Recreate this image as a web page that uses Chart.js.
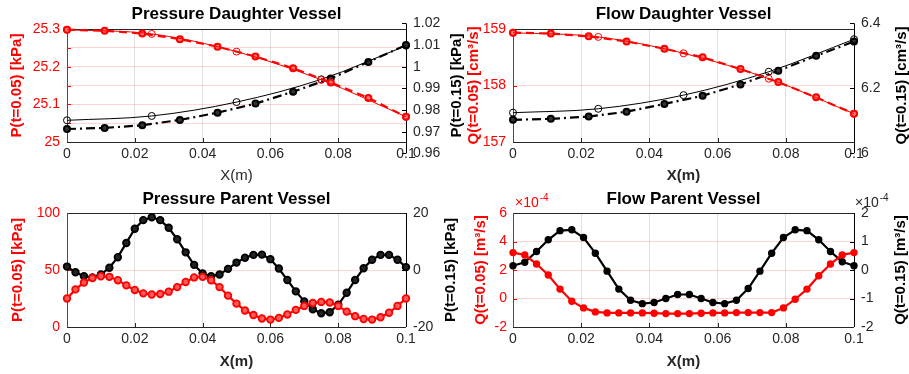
<!DOCTYPE html>
<html>
<head>
<meta charset="utf-8">
<script src="https://cdn.jsdelivr.net/npm/chart.js@4.4.1/dist/chart.umd.min.js"></script>
<style>
  html, body { margin: 0; padding: 0; background: #fff; }
  #wrap { position: relative; width: 909px; height: 374px; overflow: hidden; }
  canvas { position: absolute; }
</style>
</head>
<body>
<div id="wrap">
  <canvas id="cA" width="470" height="185" style="left:0;top:0"></canvas>
  <canvas id="cB" width="469" height="185" style="left:440px;top:0"></canvas>
  <canvas id="cC" width="470" height="189" style="left:0;top:185px"></canvas>
  <canvas id="cD" width="469" height="189" style="left:440px;top:185px"></canvas>
</div>
<script>
const FONT = "'Liberation Sans', Arial, Helvetica, sans-serif";
const RED  = '#FF0000';
const BLK  = '#000000';
const AXC  = '#262626';
const PINK = 'rgba(255,0,0,0.16)';
const GRID = 'rgba(0,0,0,0.12)';

// x positions / ticks
const xTicks = [0, 0.02, 0.04, 0.06, 0.08, 0.1];
const x5  = [0, 0.025, 0.05, 0.075, 0.1];
const x10 = [0, 0.0111, 0.0222, 0.0333, 0.0444, 0.0556, 0.0667, 0.0778, 0.0889, 0.1];
const x41 = [0, 0.0025, 0.005, 0.0075, 0.01, 0.0125, 0.015, 0.0175, 0.02, 0.0225, 0.025,
             0.0275, 0.03, 0.0325, 0.035, 0.0375, 0.04, 0.0425, 0.045, 0.0475, 0.05,
             0.0525, 0.055, 0.0575, 0.06, 0.0625, 0.065, 0.0675, 0.07, 0.0725, 0.075,
             0.0775, 0.08, 0.0825, 0.085, 0.0875, 0.09, 0.0925, 0.095, 0.0975, 0.1];
const x30 = [0, 0.00345, 0.0069, 0.01034, 0.01379, 0.01724, 0.02069, 0.02414, 0.02759, 0.03103,
             0.03448, 0.03793, 0.04138, 0.04483, 0.04828, 0.05172, 0.05517, 0.05862, 0.06207, 0.06552,
             0.06897, 0.07241, 0.07586, 0.07931, 0.08276, 0.08621, 0.08966, 0.0931, 0.09655, 0.1];

// Pressure Daughter Vessel
const pdLeftTicks  = [25, 25.05, 25.1, 25.15, 25.2, 25.25, 25.3];
const pdRightTicks = [0.96, 0.97, 0.98, 0.99, 1, 1.01, 1.02];
const pdRightRange = [0.9653, 1.0174];
const pdRed5   = [25.298, 25.287, 25.240, 25.165, 25.067];
const pdRed10  = [25.298, 25.2955, 25.288, 25.273, 25.253, 25.227, 25.196, 25.158, 25.117, 25.067];
const pdBlk5   = [0.9753, 0.9773, 0.9837, 0.9942, 1.0097];
const pdBlk10  = [0.9713, 0.9718, 0.9730, 0.9755, 0.9788, 0.9830, 0.9885, 0.9946, 1.0022, 1.0100];

// Flow Daughter Vessel
const fdLeftTicks  = [157, 158, 159];
const fdRightTicks = [6, 6.2, 6.4];
const fdRightRange = [6.0348, 6.3825];
const fdRed5   = [158.935, 158.86, 158.57, 158.12, 157.5];
const fdRed10  = [158.935, 158.92, 158.87, 158.78, 158.65, 158.5, 158.29, 158.06, 157.79, 157.5];
const fdBlk5   = [6.125, 6.137, 6.179, 6.251, 6.351];
const fdBlk10  = [6.103, 6.106, 6.113, 6.128, 6.152, 6.177, 6.212, 6.254, 6.300, 6.344];

// Pressure Parent Vessel
const ppLeftTicks  = [0, 50, 100];
const ppRightTicks = [-20, 0, 20];
const ppRed = [25, 33, 39, 43, 44.5, 44, 41, 36.5, 32.5, 29.5, 28.5,
               29, 31, 35, 39.5, 43.5, 44, 41, 35, 27.5, 20.5,
               14.5, 10.5, 7.5, 6.5, 8, 11, 15, 18.5, 21, 22,
               21.5, 18.5, 13.5, 9.5, 7, 6.5, 8.5, 12.5, 18.5, 25];
const ppBlk = [1.2, -0.8, -2.2, -2.6, -1.6, 0.8, 4.5, 9.5, 14.5, 17.5, 18.5,
               17.5, 14.8, 10.8, 6.2, 1.8, -1.2, -2.2, -1.6, 0.4, 2.6,
               4.3, 5.3, 5.4, 3.8, 0.5, -3.5, -7.5, -11, -13.8, -15.2,
               -14.8, -12.2, -8, -3.5, 0.6, 3.6, 5.3, 5.3, 3.6, 1.0];

// Flow Parent Vessel (x 1e-4 m^3/s)
const fpLeftTicks  = [-2, 0, 2, 4, 6];
const fpRightTicks = [-2, -1, 0, 1, 2];
const fpRed = [3.22, 3.06, 2.42, 1.65, 0.66, -0.19, -0.66, -0.94, -1.01, -1.01,
               -1.01, -1.01, -1.03, -1.06, -1.06, -1.06, -1.03, -1.01, -1.01, -0.99,
               -0.99, -0.99, -0.99, -0.66, -0.05, 0.66, 1.6, 2.42, 3.06, 3.22];
const fpBlk = [0.15, 0.27, 0.65, 1.06, 1.38, 1.41, 1.14, 0.59, -0.04, -0.67,
               -1.06, -1.18, -1.14, -1.0, -0.86, -0.86, -1.0, -1.14, -1.18, -1.06,
               -0.65, -0.04, 0.59, 1.14, 1.41, 1.38, 1.06, 0.65, 0.29, 0.15];

function pts(xs, ys) { return ys.map((y, i) => ({ x: xs[i], y })); }
function fmt(v) { return String(+v.toFixed(4)); }

const deco = {
  id: 'deco',
  beforeDatasetsDraw(chart) {
    const { ctx, chartArea: a, scales } = chart;
    const line = (x1, y1, x2, y2, c) => {
      ctx.strokeStyle = c; ctx.beginPath(); ctx.moveTo(x1, y1); ctx.lineTo(x2, y2); ctx.stroke();
    };
    const r = v => Math.round(v) + 0.5;
    ctx.save();
    ctx.lineWidth = 1;
    const L = 4;
    scales.x.ticks.forEach(t => {
      const x = r(scales.x.getPixelForValue(t.value));
      line(x, a.bottom, x, a.bottom - L, AXC);
    });
    scales.y.ticks.forEach(t => {
      const y = r(scales.y.getPixelForValue(t.value));
      line(a.left, y, a.left + L, y, RED);
    });
    const rt = scales.y1.ticks;
    rt.forEach(t => {
      const y = r(scales.y1.getPixelForValue(t.value));
      line(a.right - L, y, a.right, y, BLK);
    });
    line(a.left, r(a.top), a.right, r(a.top), AXC);
    line(a.left, r(a.bottom), a.right, r(a.bottom), AXC);
    line(r(a.left), a.top, r(a.left), a.bottom, RED);
    line(r(a.right), scales.y1.getPixelForValue(rt[0].value),
         r(a.right), scales.y1.getPixelForValue(rt[rt.length - 1].value), BLK);
    ctx.restore();
  },
  afterDraw(chart, args, o) {
    const { ctx, chartArea: a } = chart;
    ctx.save();
    ctx.translate(a.right + o.rdx, (a.top + a.bottom) / 2);
    ctx.rotate(-Math.PI / 2);
    ctx.font = 'bold 15px ' + FONT;
    ctx.fillStyle = BLK;
    ctx.textAlign = 'center';
    ctx.textBaseline = 'middle';
    ctx.fillText(o.rtitle, 0, 0);
    ctx.restore();
    (o.exps || []).forEach(e => {
      ctx.save();
      ctx.fillStyle = e.color;
      ctx.textBaseline = 'alphabetic';
      ctx.textAlign = 'left';
      const x0 = e.side === 'left' ? a.left + 2 : a.right + 1;
      const y0 = a.top - 6;
      ctx.font = '14px ' + FONT;
      ctx.fillText('\u00d710', x0, y0);
      const w = ctx.measureText('\u00d710').width;
      ctx.font = '10px ' + FONT;
      ctx.fillText('-4', x0 + w + 1, y0 - 6);
      ctx.restore();
    });
  }
};

function mkPanel(id, p) {
  new Chart(document.getElementById(id), {
    type: 'line',
    data: { datasets: p.datasets },
    options: {
      responsive: false, animation: false, devicePixelRatio: 1,
      layout: { padding: 0 },
      plugins: {
        legend: { display: false }, tooltip: { enabled: false },
        title: { display: true, text: p.title, fullSize: false, color: BLK,
                 font: { family: FONT, size: 17, weight: 'bold' }, padding: { top: 4.5, bottom: p.tb } },
        deco: { rtitle: p.rtitle, rdx: p.rdx, exps: p.exps }
      },
      scales: {
        x: {
          type: 'linear', min: 0, max: 0.1,
          afterFit: s => { s.height = p.xh; },
          afterBuildTicks: s => { s.ticks = xTicks.map(v => ({ value: v })); },
          ticks: { autoSkip: false, maxRotation: 0, color: AXC, padding: 4,
                   font: { family: FONT, size: 14 }, callback: v => fmt(v) },
          grid: { color: GRID, drawTicks: false }, border: { display: false },
          title: { display: true, text: 'X(m)', color: AXC, padding: { top: 0, bottom: p.xtb },
                   font: { family: FONT, size: 15, weight: p.xw } }
        },
        y: {
          position: 'left', min: p.lmin, max: p.lmax,
          afterFit: s => { s.width = p.lw; },
          afterBuildTicks: s => { s.ticks = p.lticks.map(v => ({ value: v })); },
          ticks: { autoSkip: false, color: RED, padding: p.lpad, font: { family: FONT, size: 14 },
                   callback: p.lcb || (v => fmt(v)) },
          grid: { color: PINK, drawTicks: false }, border: { display: false },
          title: { display: true, text: p.ltitle, color: RED, padding: { top: p.ltp, bottom: 0 },
                   font: { family: FONT, size: 15, weight: 'bold' } }
        },
        y1: {
          position: 'right', min: p.rmin, max: p.rmax,
          afterFit: s => { s.width = p.rw; },
          afterBuildTicks: s => { s.ticks = p.rticks.map(v => ({ value: v })); },
          ticks: { autoSkip: false, color: AXC, padding: 7, font: { family: FONT, size: 14 },
                   callback: v => fmt(v) },
          grid: { drawOnChartArea: false, drawTicks: false }, border: { display: false }
        }
      }
    },
    plugins: [deco]
  });
}

function thin(data, color, axis) {
  return { data, yAxisID: axis, borderColor: color, borderWidth: 1, cubicInterpolationMode: 'monotone',
           pointRadius: 3.5, pointBorderWidth: 1, pointBorderColor: color,
           pointBackgroundColor: 'rgba(255,255,255,0)', clip: false };
}
function thick(data, color, axis, dash) {
  return { data, yAxisID: axis, borderColor: color, borderWidth: 2.2, borderDash: dash,
           pointRadius: 3, pointBorderWidth: 2, pointBorderColor: color,
           pointBackgroundColor: color === RED ? 'rgba(255,120,120,1)' : '#333', clip: false };
}
function dense(data, color, axis, fill, r) {
  return { data, yAxisID: axis, borderColor: color, borderWidth: 2.2,
           pointRadius: r, pointBorderWidth: 1.8, pointBorderColor: color,
           pointBackgroundColor: fill, clip: false };
}

mkPanel('cA', {
  title: 'Pressure Daughter Vessel', tb: 4.1, xh: 43, xtb: 0, xw: 'normal',
  lmin: 25, lmax: 25.3, lticks: pdLeftTicks, lw: 67, lpad: 7, ltp: 8,
  lcb: v => (Math.abs(v * 10 - Math.round(v * 10)) < 1e-6 ? fmt(v) : ''),
  ltitle: 'P(t=0.05) [kPa]',
  rmin: pdRightRange[0], rmax: pdRightRange[1], rticks: pdRightTicks, rw: 64,
  rtitle: 'P(t=0.15) [kPa]', rdx: 51,
  datasets: [
    thin(pts(x5, pdRed5), RED, 'y'),
    thick(pts(x10, pdRed10), RED, 'y', [8, 5]),
    thin(pts(x5, pdBlk5), BLK, 'y1'),
    thick(pts(x10, pdBlk10), BLK, 'y1', [9, 4, 2, 4])
  ]
});

mkPanel('cB', {
  title: 'Flow Daughter Vessel', tb: 4.1, xh: 43, xtb: 0, xw: 'bold',
  lmin: 157, lmax: 159, lticks: fdLeftTicks, lw: 73, lpad: 7, ltp: 25,
  ltitle: 'Q(t=0.05) [cm\u00b3/s]',
  rmin: fdRightRange[0], rmax: fdRightRange[1], rticks: fdRightTicks, rw: 55,
  rtitle: 'Q(t=0.15) [cm\u00b3/s]', rdx: 48,
  datasets: [
    thin(pts(x5, fdRed5), RED, 'y'),
    thick(pts(x10, fdRed10), RED, 'y', [8, 5]),
    thin(pts(x5, fdBlk5), BLK, 'y1'),
    thick(pts(x10, fdBlk10), BLK, 'y1', [9, 4, 2, 4])
  ]
});

mkPanel('cC', {
  title: 'Pressure Parent Vessel', tb: 3.1, xh: 47, xtb: 3.3, xw: 'bold',
  lmin: 0, lmax: 100, lticks: ppLeftTicks, lw: 67, lpad: 7, ltp: 9,
  ltitle: 'P(t=0.05) [kPa]',
  rmin: -20, rmax: 20, rticks: ppRightTicks, rw: 64,
  rtitle: 'P(t=0.15) [kPa]', rdx: 45,
  datasets: [
    dense(pts(x41, ppRed), RED, 'y', 'rgba(255,90,90,1)', 3.3),
    dense(pts(x41, ppBlk), BLK, 'y1', '#222', 3.3)
  ]
});

mkPanel('cD', {
  title: 'Flow Parent Vessel', tb: 3.1, xh: 47, xtb: 3.3, xw: 'bold',
  lmin: -2, lmax: 6, lticks: fpLeftTicks, lw: 73, lpad: 6, ltp: 32,
  ltitle: 'Q(t=0.05) [m\u00b3/s]',
  rmin: -2, rmax: 2, rticks: fpRightTicks, rw: 55,
  rtitle: 'Q(t=0.15) [m\u00b3/s]', rdx: 47,
  exps: [{ side: 'left', color: RED }, { side: 'right', color: AXC }],
  datasets: [
    dense(pts(x30, fpRed), RED, 'y', RED, 2.8),
    dense(pts(x30, fpBlk), BLK, 'y1', BLK, 2.8)
  ]
});
</script>
</body>
</html>
